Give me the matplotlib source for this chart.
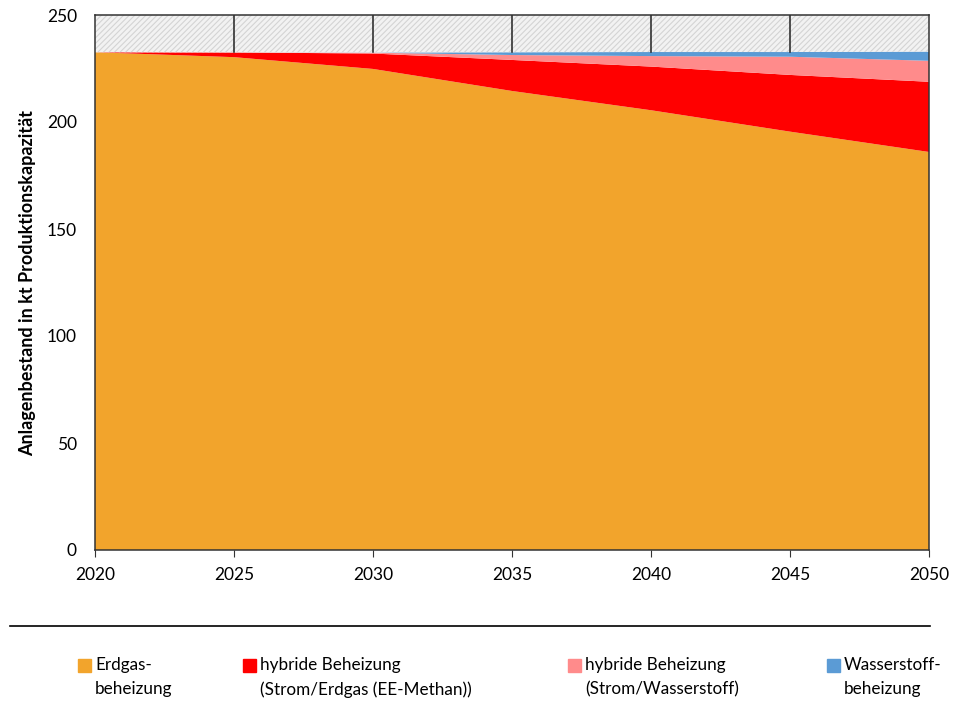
import matplotlib.pyplot as plt
import matplotlib.patches as mpatches
import numpy as np

plt.rcParams['font.family'] = ['Lato', 'DejaVu Sans']
plt.rcParams['hatch.linewidth'] = 0.8

# Daten (kt Produktionskapazitaet)
jahre = [2020, 2025, 2030, 2035, 2040, 2045, 2050]
erdgas = [232.6, 230.3, 224.8, 214.5, 205.5, 195.5, 186.0]
hybrid_methan = [0.0, 2.2, 7.2, 14.5, 20.4, 26.5, 32.8]
hybrid_h2 = [0.0, 0.0, 0.4, 2.3, 4.9, 8.5, 9.8]
wasserstoff = [0.0, 0.0, 0.1, 1.3, 1.9, 2.2, 4.3]

namen = ['Erdgas-\nbeheizung',
         'hybride Beheizung\n(Strom/Erdgas (EE-Methan))',
         'hybride Beheizung\n(Strom/Wasserstoff)',
         'Wasserstoff-\nbeheizung']
farben = ['#f2a42c', '#ff0000', '#ff8b8b', '#5b9bd5']

fig = plt.figure(figsize=(9.63, 7.06), dpi=100)
ax = fig.add_axes([95/963, 1-550/706, (929-95)/963, 535/706])

ax.stackplot(jahre, erdgas, hybrid_methan, hybrid_h2, wasserstoff,
             colors=farben, linewidth=0)

gesamt = np.array(erdgas) + np.array(hybrid_methan) + np.array(hybrid_h2) + np.array(wasserstoff)
ax.fill_between(jahre, gesamt, 250, facecolor='#f2f2f2', edgecolor='#d4d4d4',
                hatch='//////', linewidth=0)
for i in range(1, len(jahre) - 1):
    ax.plot([jahre[i], jahre[i]], [gesamt[i], 250], color='#222222', lw=1.1)

ax.set_xlim(2020, 2050)
ax.set_ylim(0, 250)
ax.set_xticks(jahre)
ax.set_yticks([0, 50, 100, 150, 200, 250])
ax.tick_params(axis='x', direction='out', length=5, labelsize=12.5,
               color='#333333', pad=7)
ax.tick_params(axis='y', length=0, labelsize=12.5, pad=13)
for s in ['top', 'right', 'left', 'bottom']:
    ax.spines[s].set_color('#333333')
    ax.spines[s].set_linewidth(1.1)
ax.set_ylabel('Anlagenbestand in kt Produktionskapazität', fontsize=13,
              fontweight='bold', labelpad=8)

# Linie ueber der Legende
fig.add_artist(plt.Line2D([10/963, 930/963], [1-626/706, 1-626/706],
                          color='black', lw=1.2))

# Legende
pos_x = [78, 243, 568, 827]
for px, name, f in zip(pos_x, namen, farben):
    fig.add_artist(mpatches.Rectangle((px/963, 1-672/706), 13/963, 13/706,
                                      color=f, transform=fig.transFigure))
    fig.text((px+17)/963, 1-657/706, name, fontsize=12.3, va='top',
             ha='left', linespacing=1.6)

fig.savefig('out.png', dpi=100)
